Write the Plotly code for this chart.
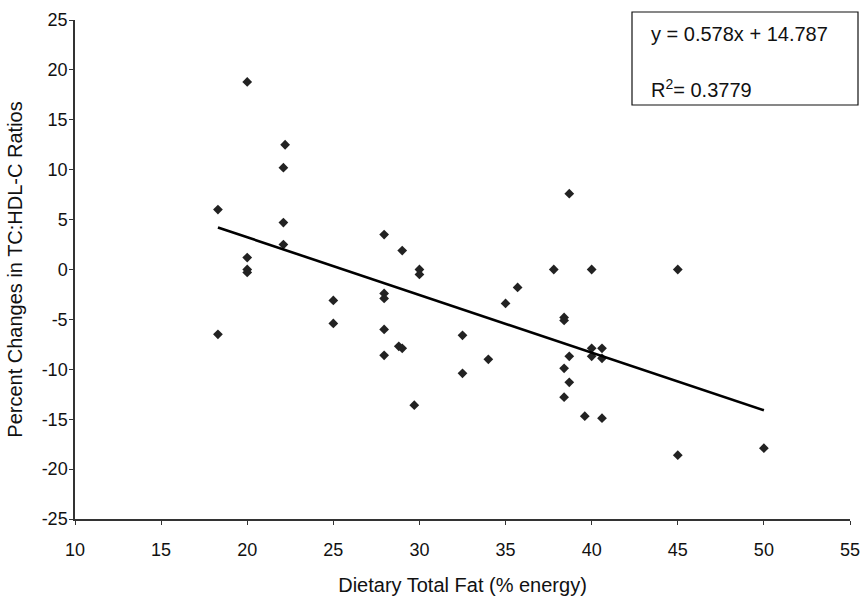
import plotly.graph_objects as go

# Data
fat_pct = [20.0, 22.2, 22.1, 18.3, 22.1, 27.95, 22.1, 20.0, 20.0, 20.0,
           18.3, 25.0, 25.0, 27.95, 27.95, 27.95, 27.95, 28.8, 29.0, 38.7,
           29.0, 30.0, 30.0, 32.5, 32.5, 29.7, 34.0, 35.0, 35.7, 37.8,
           40.0, 45.0, 38.4, 38.4, 38.7, 38.4, 38.7, 38.4, 40.0, 40.0,
           40.6, 40.6, 39.6, 40.6, 45.0, 50.0]
pct_change = [18.8, 12.5, 10.2, 6.0, 4.7, 3.5, 2.5, 1.2, 0.0, -0.3,
              -6.5, -3.1, -5.4, -2.4, -2.9, -6.0, -8.6, -7.7, -7.9, 7.6,
              1.9, 0.0, -0.5, -6.6, -10.4, -13.6, -9.0, -3.4, -1.8, 0.0,
              0.0, 0.0, -4.8, -5.1, -8.7, -9.9, -11.3, -12.8, -7.9, -8.7,
              -7.9, -8.9, -14.7, -14.9, -18.6, -17.9]

trend_slope = -0.578
trend_intercept = 14.787
equation_label = "y = 0.578x + 14.787"
r2_label = "R<sup>2</sup>= 0.3779"

x_ticks = [10, 15, 20, 25, 30, 35, 40, 45, 50, 55]
y_ticks = [-25, -20, -15, -10, -5, 0, 5, 10, 15, 20, 25]
x_tick_text = [str(v) for v in x_ticks]
y_tick_text = [str(v) for v in y_ticks]

trend_x = [min(fat_pct), max(fat_pct)]
trend_y = [trend_slope * v + trend_intercept for v in trend_x]

FONT = "Liberation Sans, Arial, sans-serif"
W, H = 864, 598
ML, MR, MT, MB = 75, 14, 20, 79

def px_to_paper_x(px):
    return (px - ML) / (W - ML - MR)

def px_to_paper_y(py):
    return (H - MB - py) / (H - MT - MB)

fig = go.Figure()
fig.add_trace(go.Scatter(
    x=fat_pct, y=pct_change, mode="markers",
    marker=dict(symbol="diamond", size=7.5, color="#222222"),
    showlegend=False, hoverinfo="x+y"))
fig.add_trace(go.Scatter(
    x=trend_x, y=trend_y, mode="lines",
    line=dict(color="#000000", width=2.6),
    showlegend=False, hoverinfo="skip"))

fig.update_layout(
    width=W, height=H,
    margin=dict(l=ML, r=MR, t=MT, b=MB),
    paper_bgcolor="white", plot_bgcolor="white",
    font=dict(family=FONT, size=18, color="#111111"),
    xaxis=dict(range=[10, 55], tickvals=x_ticks, ticktext=x_tick_text,
               showgrid=False, zeroline=False, automargin=False,
               showline=True, linecolor="#333333", linewidth=1.5,
               ticks="outside", ticklen=4, tickcolor="#333333",
               tickfont=dict(size=18), ticklabelstandoff=10,
               title=dict(text="Dietary Total Fat (% energy)", font=dict(size=20), standoff=19)),
    yaxis=dict(range=[-25, 25], tickvals=y_ticks, ticktext=y_tick_text,
               showgrid=False, zeroline=False, automargin=False,
               showline=True, linecolor="#333333", linewidth=1.5,
               ticks="outside", ticklen=4, tickcolor="#333333",
               tickfont=dict(size=18), ticklabelstandoff=-2,
               title=dict(text="Percent Changes in TC:HDL-C Ratios", font=dict(size=20), standoff=14)),
)

# Equation box
fig.add_shape(type="rect", xref="paper", yref="paper",
              x0=px_to_paper_x(632), x1=px_to_paper_x(858),
              y0=px_to_paper_y(105), y1=px_to_paper_y(12),
              line=dict(color="#111111", width=1.2), fillcolor="white", layer="above")
fig.add_annotation(xref="paper", yref="paper", x=px_to_paper_x(649), y=px_to_paper_y(34),
                   text=equation_label, showarrow=False, xanchor="left", yanchor="middle",
                   font=dict(size=20, family=FONT, color="#111111"))
fig.add_annotation(xref="paper", yref="paper", x=px_to_paper_x(649), y=px_to_paper_y(88),
                   text=r2_label, showarrow=False, xanchor="left", yanchor="middle",
                   font=dict(size=20, family=FONT, color="#111111"))

fig.write_html("out.html", config={"displayModeBar": False},
               post_script="document.body.style.margin='0px';document.body.style.overflow='hidden';")
